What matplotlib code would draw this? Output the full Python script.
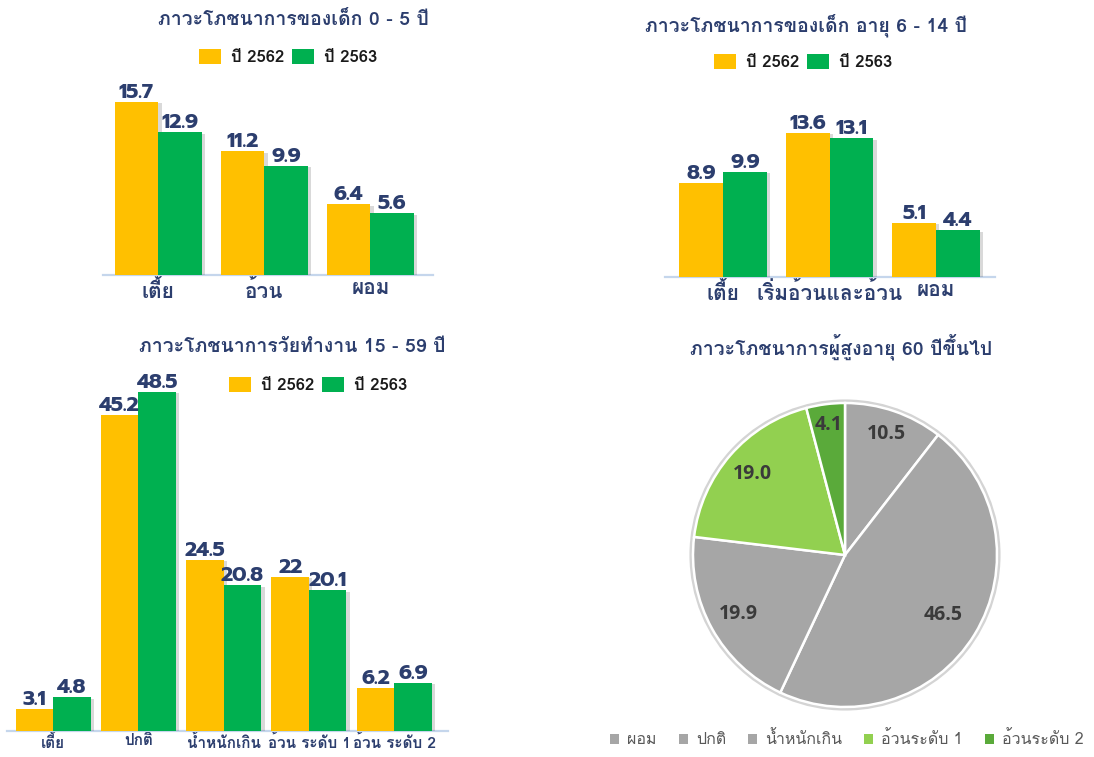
import matplotlib
matplotlib.use("Agg")
import matplotlib.pyplot as plt
from matplotlib.patches import Patch, Circle
import matplotlib.patheffects as pe
import numpy as np

THAI = ['Loma', 'Kanit', 'DejaVu Sans']
NUM = ['Prompt', 'Kanit', 'DejaVu Sans']
plt.rcParams['font.family'] = THAI

# ---------------- data ----------------
series_names = ["ปี 2562", "ปี 2563"]

kids_title = "ภาวะโภชนาการของเด็ก 0 - 5 ปี"
kids_cats = ["เตี้ย", "อ้วน", "ผอม"]
kids_2562 = [15.7, 11.2, 6.4]
kids_2563 = [12.9, 9.9, 5.6]

school_title = "ภาวะโภชนาการของเด็ก อายุ 6 - 14 ปี"
school_cats = ["เตี้ย", "เริ่มอ้วนและอ้วน", "ผอม"]
school_2562 = [8.9, 13.6, 5.1]
school_2563 = [9.9, 13.1, 4.4]

work_title = "ภาวะโภชนาการวัยทำงาน 15 - 59 ปี"
work_cats = ["เตี้ย", "ปกติ", "น้ำหนักเกิน", "อ้วน ระดับ 1", "อ้วน ระดับ 2"]
work_2562 = [3.1, 45.2, 24.5, 22, 6.2]
work_2563 = [4.8, 48.5, 20.8, 20.1, 6.9]
work_2562_labels = ["3.1", "45.2", "24.5", "22", "6.2"]
work_2563_labels = ["4.8", "48.5", "20.8", "20.1", "6.9"]

elder_title = "ภาวะโภชนาการผู้สูงอายุ 60 ปีขึ้นไป"
elder_cats = ["ผอม", "ปกติ", "น้ำหนักเกิน", "อ้วนระดับ 1", "อ้วนระดับ 2"]
elder_vals = [10.5, 46.5, 19.9, 19.0, 4.1]

# ---------------- style ----------------
W, H = 1094, 757
YELLOW = "#FFC000"
GREEN = "#00B050"
NAVY = "#2C3E6E"
BASE = "#C5D6EC"
PIE_COLORS = ["#A6A6A6", "#A6A6A6", "#A6A6A6", "#92D050", "#5AAA3A"]

fig = plt.figure(figsize=(W / 100, H / 100), dpi=100)
fig.patch.set_facecolor("white")

SHADOW = [pe.SimplePatchShadow(offset=(2.5, -1), alpha=0.22, shadow_rgbFace="#555555"), pe.Normal()]


def px_axes(x0, x1, ytop, ybot):
    return fig.add_axes([x0 / W, 1 - ybot / H, (x1 - x0) / W, (ybot - ytop) / H])


def fig_text(x, y, s, **kw):
    fig.text(x / W, 1 - y / H, s, **kw)


def bar_panel(rect, cats, v1, v2, width, ytop_val, xlim, val_fs, cat_fs, labels1=None, labels2=None, pad=3):
    ax = px_axes(*rect)
    x = np.arange(len(cats))
    b1 = ax.bar(x - width / 2, v1, width, color=YELLOW, zorder=3)
    b2 = ax.bar(x + width / 2, v2, width, color=GREEN, zorder=3)
    for r in list(b1) + list(b2):
        r.set_path_effects(SHADOW)
    l1 = labels1 if labels1 is not None else [f"{v:g}" for v in v1]
    l2 = labels2 if labels2 is not None else [f"{v:g}" for v in v2]
    for bars, labs in ((b1, l1), (b2, l2)):
        for r, lab in zip(bars, labs):
            ax.text(r.get_x() + r.get_width() / 2, r.get_height(), lab,
                    ha="center", va="bottom", fontsize=val_fs, fontweight="bold",
                    color=NAVY, zorder=4, family=NUM)
    ax.set_xlim(*xlim)
    ax.set_ylim(0, ytop_val)
    ax.set_xticks(x)
    ax.set_xticklabels(cats, fontsize=cat_fs, fontweight="bold", color=NAVY)
    ax.tick_params(axis="x", length=0, pad=pad)
    ax.set_yticks([])
    for s in ("top", "right", "left"):
        ax.spines[s].set_visible(False)
    ax.spines["bottom"].set_color(BASE)
    ax.spines["bottom"].set_linewidth(1.6)
    ax.patch.set_alpha(0)
    return ax


def bar_legend(cx, cy, fs=12):
    handles = [Patch(facecolor=YELLOW, edgecolor="none"), Patch(facecolor=GREEN, edgecolor="none")]
    leg = fig.legend(handles, series_names, loc="center", bbox_to_anchor=(cx / W, 1 - cy / H),
                     ncol=2, frameon=False, handlelength=1.3, handleheight=1.0,
                     handletextpad=0.6, columnspacing=0.5,
                     prop={"family": THAI, "weight": "bold", "size": fs})
    for t in leg.get_texts():
        t.set_color("#1A1A1A")
    return leg


TITLE_FS = 14

# ---- top-left ----
bar_panel((103, 433, 60, 275), kids_cats, kids_2562, kids_2563, 0.41, 215 / 11.05,
          (-0.52, 2.59), 15, 15)
fig_text(293, 20, kids_title, ha="center", va="center", fontsize=TITLE_FS, fontweight="bold", color=NAVY)
bar_legend(288, 57)

# ---- top-right ----
bar_panel((665, 995, 60, 277), school_cats, school_2562, school_2563, 0.41, 217 / 10.6,
          (-0.545, 2.554), 15, 15)
fig_text(806, 25, school_title, ha="center", va="center", fontsize=TITLE_FS, fontweight="bold", color=NAVY)
bar_legend(803, 62)

# ---- bottom-left ----
bar_panel((7, 448, 375, 731), work_cats, work_2562, work_2563, 0.44, 356 / 7.0,
          (-0.54, 4.63), 15, 11, work_2562_labels, work_2563_labels, pad=2)
fig_text(292, 347, work_title, ha="center", va="center", fontsize=TITLE_FS, fontweight="bold", color=NAVY)
bar_legend(318, 385)

# ---- bottom-right pie ----
r_px = 152
cx, cy = 845, 555
ext = 165
axp = px_axes(cx - ext, cx + ext, cy - ext, cy + ext)
axp.add_patch(Circle((0, 0), 1.012, facecolor="none", edgecolor="#D4D4D4", linewidth=2.5, zorder=0))
wedges, _ = axp.pie(elder_vals, colors=PIE_COLORS, startangle=90, counterclock=False,
                    radius=1.0, wedgeprops=dict(edgecolor="white", linewidth=1.8))
lim = ext / r_px
axp.set_xlim(-lim, lim)
axp.set_ylim(-lim, lim)
axp.set_aspect("equal")
axp.axis("off")
label_r = [0.84, 0.76, 0.80, 0.81, 0.86]
for w, v, lr in zip(wedges, elder_vals, label_r):
    ang = np.deg2rad((w.theta1 + w.theta2) / 2)
    axp.text(lr * np.cos(ang), lr * np.sin(ang), f"{v:.1f}", ha="center", va="center",
             fontsize=14, fontweight="bold", color="#3A3A3A",
             family=["Open Sans", "DejaVu Sans"])
fig_text(841, 347, elder_title, ha="center", va="center", fontsize=TITLE_FS, fontweight="bold", color=NAVY)

pie_handles = [Patch(facecolor=c, edgecolor="none") for c in PIE_COLORS]
leg = fig.legend(pie_handles, elder_cats, loc="center", bbox_to_anchor=(847 / W, 1 - 740 / H),
                 ncol=5, frameon=False, handlelength=0.55, handleheight=0.55,
                 handletextpad=0.5, columnspacing=1.4,
                 prop={"family": THAI, "size": 11.5})
for t in leg.get_texts():
    t.set_color("#595959")

fig.savefig("out.png", dpi=100)
